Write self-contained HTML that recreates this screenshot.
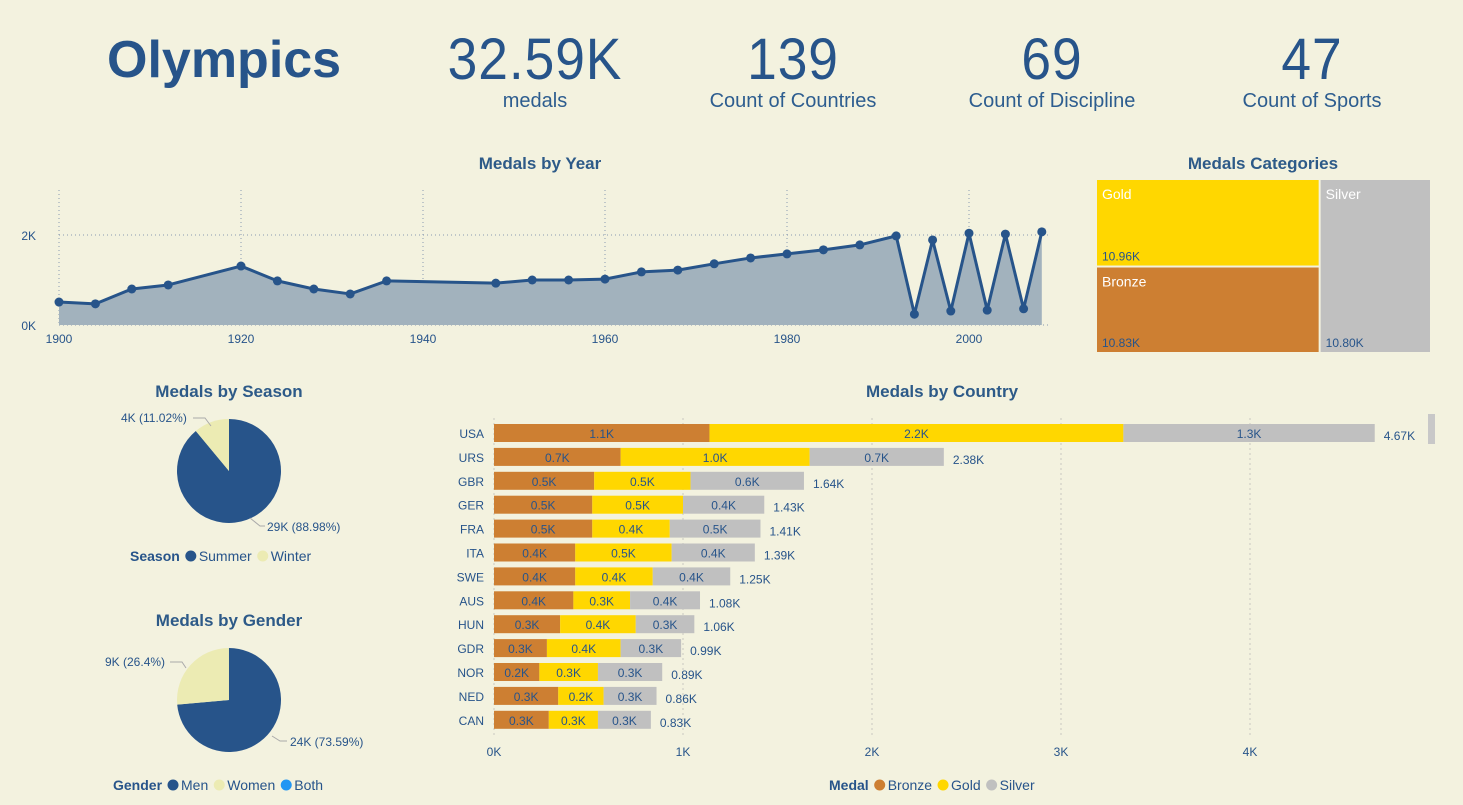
<!DOCTYPE html>
<html><head><meta charset="utf-8"><style>
body{margin:0;width:1463px;height:805px;background:#f3f2df;font-family:"Liberation Sans",sans-serif;overflow:hidden;position:relative;color:#27548a}
.a{position:absolute;white-space:nowrap}
.kpi{text-align:center;width:240px}
.kv{font-size:58px;line-height:60px;letter-spacing:1px;transform:scaleX(0.92)}
.kl{font-size:20px;color:#2d5d8f}
.t{font-size:17px;font-weight:bold;color:#2d5a88;text-align:center}
svg text{font-family:"Liberation Sans",sans-serif}
</style></head><body>
<div class="a" style="left:107px;top:30px;font-size:52px;font-weight:bold">Olympics</div>
<div class="a kpi" style="left:415px;top:30px"><div class="kv">32.59K</div><div class="kl">medals</div></div>
<div class="a kpi" style="left:673px;top:30px"><div class="kv">139</div><div class="kl">Count of Countries</div></div>
<div class="a kpi" style="left:932px;top:30px"><div class="kv">69</div><div class="kl">Count of Discipline</div></div>
<div class="a kpi" style="left:1192px;top:30px"><div class="kv">47</div><div class="kl">Count of Sports</div></div>

<div class="a t" style="left:440px;top:154px;width:200px">Medals by Year</div>
<div class="a t" style="left:1163px;top:154px;width:200px">Medals Categories</div>
<div class="a t" style="left:129px;top:382px;width:200px">Medals by Season</div>
<div class="a t" style="left:129px;top:611px;width:200px">Medals by Gender</div>
<div class="a t" style="left:842px;top:382px;width:200px">Medals by Country</div>

<svg class="a" style="left:0;top:0" width="1463" height="805">
<g id="line"></g><g id="tree"></g><g id="pies"></g><g id="bars"></g>
</svg>
<script>
const years=[1900,1904,1908,1912,1920,1924,1928,1932,1936,1948,1952,1956,1960,1964,1968,1972,1976,1980,1984,1988,1992,1994,1996,1998,2000,2002,2004,2006,2008];
const medalsByYear=[0.51,0.47,0.8,0.89,1.31,0.98,0.8,0.69,0.98,0.93,1.0,1.0,1.02,1.18,1.22,1.36,1.49,1.58,1.67,1.78,1.98,0.24,1.89,0.31,2.04,0.33,2.02,0.36,2.07];
const yearTicks=[1900,1920,1940,1960,1980,2000];
const yTicks=[0,2];
const countries=["USA","URS","GBR","GER","FRA","ITA","SWE","AUS","HUN","GDR","NOR","NED","CAN"];
const bronze=[1.14,0.67,0.53,0.52,0.52,0.43,0.43,0.42,0.35,0.28,0.24,0.34,0.29];
const gold=[2.19,1.0,0.51,0.48,0.41,0.51,0.41,0.3,0.4,0.39,0.31,0.24,0.26];
const silver=[1.33,0.71,0.6,0.43,0.48,0.44,0.41,0.37,0.31,0.32,0.34,0.28,0.28];
const totals=["4.67K","2.38K","1.64K","1.43K","1.41K","1.39K","1.25K","1.08K","1.06K","0.99K","0.89K","0.86K","0.83K"];
const xTicks=[0,1,2,3,4];
const seasonVals=[88.98,11.02];
const genderVals=[73.59,26.4,0.01];
const categories=["Gold","Bronze","Silver"];
const categoryVals=[10.96,10.83,10.80];

const NS="http://www.w3.org/2000/svg";
function mk(p,tag,attrs,txt){const e=document.createElementNS(NS,tag);for(const k in attrs)e.setAttribute(k,attrs[k]);if(txt!==undefined)e.textContent=txt;p.appendChild(e);return e;}
const C="#27548a";
const L=document.getElementById('line');
const lx=y=>59+(y-1900)*9.1, ly=v=>325-v*45;
yearTicks.forEach(t=>{mk(L,'line',{x1:lx(t),x2:lx(t),y1:190,y2:325,stroke:'#8a9ab0','stroke-dasharray':'1 3'});
 const tx=mk(L,'text',{x:lx(t),y:343,'font-size':12,fill:C,'text-anchor':'middle'},t);});
yTicks.forEach(t=>{mk(L,'line',{x1:59,x2:1050,y1:ly(t),y2:ly(t),stroke:'#8a9ab0','stroke-dasharray':'1 3'});
 mk(L,'text',{x:36,y:ly(t)+5,'font-size':12,fill:C,'text-anchor':'end'},t+'K');});
let pts=years.map((y,i)=>lx(y)+','+ly(medalsByYear[i]));
const area=mk(L,'polygon',{points:lx(years[0])+','+ly(0)+' '+pts.join(' ')+' '+lx(years[years.length-1])+','+ly(0),fill:'#a2b2bd'});

const pl=mk(L,'polyline',{points:pts.join(' '),fill:'none',stroke:'#27548a','stroke-width':3,'stroke-linejoin':'round'});

years.forEach((y,i)=>{const c=mk(L,'circle',{cx:lx(y),cy:ly(medalsByYear[i]),r:4.5,fill:'#27548a'});
 });
const T=document.getElementById('tree');
const tot=categoryVals.reduce((a,b)=>a+b,0);
const tx0=1097,tx1=1430,ty0=180,ty1=352;
const lw=(tx1-tx0)*(categoryVals[0]+categoryVals[1])/tot;
const gh=(ty1-ty0)*categoryVals[0]/(categoryVals[0]+categoryVals[1]);
const rects=[[tx0,ty0,lw-1,gh-1,'#ffd700'],[tx0,ty0+gh+1,lw-1,ty1-ty0-gh-1,'#cd7f32'],[tx0+lw+1,ty0,tx1-tx0-lw-1,ty1-ty0,'#c0c0c0']];
rects.forEach((r,i)=>{const e=mk(T,'rect',{x:r[0],y:r[1],width:r[2],height:r[3],fill:r[4]});
 
 mk(T,'text',{x:r[0]+5,y:r[1]+19,'font-size':14,fill:'#fff'},categories[i]);
 mk(T,'text',{x:r[0]+5,y:r[1]+r[3]-5,'font-size':12,fill:C},categoryVals[i].toFixed(2)+'K');});
const P=document.getElementById('pies');
function pie(cx,cy,r,vals,cols,name){let a=0;const s=vals.reduce((x,y)=>x+y,0);
 vals.forEach((v,i)=>{const a2=a+v/s*2*Math.PI;const x1=cx+r*Math.sin(a),y1=cy-r*Math.cos(a),x2=cx+r*Math.sin(a2),y2=cy-r*Math.cos(a2);
  const e=mk(P,'path',{d:`M${cx},${cy}L${x1},${y1}A${r},${r} 0 ${a2-a>Math.PI?1:0} 1 ${x2},${y2}Z`,fill:cols[i]});
  a=a2;});}
pie(229,471,52,seasonVals,['#27548a','#ecebb3'],'season');
pie(229,700,52,genderVals,['#27548a','#ecebb3','#2196f3'],'gender');
mk(P,'polyline',{points:'193,418 205,418 211,426',fill:'none',stroke:'#aaa'});
mk(P,'text',{x:121,y:422,'font-size':12,fill:C},'4K ('+seasonVals[1].toFixed(2)+'%)');
mk(P,'polyline',{points:'250,518 260,526 265,526',fill:'none',stroke:'#aaa'});
mk(P,'text',{x:267,y:531,'font-size':12,fill:C},'29K ('+seasonVals[0].toFixed(2)+'%)');
mk(P,'polyline',{points:'170,662 182,662 186,668',fill:'none',stroke:'#aaa'});
mk(P,'text',{x:105,y:666,'font-size':12,fill:C},'9K ('+genderVals[1]+'%)');
mk(P,'polyline',{points:'272,736 280,741 287,741',fill:'none',stroke:'#aaa'});
mk(P,'text',{x:290,y:746,'font-size':12,fill:C},'24K ('+genderVals[0]+'%)');
function legend(x,y,title,items,cols){const t=mk(P,'text',{x:x,y:y,'font-size':14,'font-weight':'bold',fill:C},title);let cx=x+t.getComputedTextLength()+6;
 items.forEach((it,i)=>{mk(P,'circle',{cx:cx+5,cy:y-5,r:5.5,fill:cols[i]});const tt=mk(P,'text',{x:cx+13,y:y,'font-size':14,fill:C},it);cx+=13+tt.getComputedTextLength()+6;});}
legend(130,561,'Season',['Summer','Winter'],['#27548a','#ecebb3']);
legend(113,790,'Gender',['Men','Women','Both'],['#27548a','#ecebb3','#2196f3']);
legend(829,790,'Medal',['Bronze','Gold','Silver'],['#cd7f32','#ffd700','#c0c0c0']);
const B=document.getElementById('bars');
const bx=v=>494+v*189, by=i=>423+i*23.9;
xTicks.forEach(t=>{mk(B,'line',{x1:bx(t),x2:bx(t),y1:418,y2:735,stroke:'#c8c8c0','stroke-dasharray':'2 3'});
 mk(B,'text',{x:bx(t),y:756,'font-size':12,fill:C,'text-anchor':'middle'},t+'K');});
mk(B,'rect',{x:1428,y:414,width:7,height:30,fill:'#c8c8c8'});
countries.forEach((c,i)=>{const y=by(i);mk(B,'text',{x:484,y:y+15,'font-size':12,fill:C,'text-anchor':'end'},c);
 let s=0;[[bronze,'#cd7f32','bronze'],[gold,'#ffd700','gold'],[silver,'#c0c0c0','silver']].forEach(([arr,col,n])=>{
  const v=arr[i];const r=mk(B,'rect',{x:bx(s),y:y+1,width:bx(s+v)-bx(s),height:18,fill:col});
  
  mk(B,'text',{x:(bx(s)+bx(s+v))/2,y:y+15,'font-size':12,fill:C,'text-anchor':'middle'},v.toFixed(1)+'K');s+=v;});
 mk(B,'text',{x:bx(s)+9,y:y+17,'font-size':12,fill:C},totals[i]);});
</script>
</body></html>
